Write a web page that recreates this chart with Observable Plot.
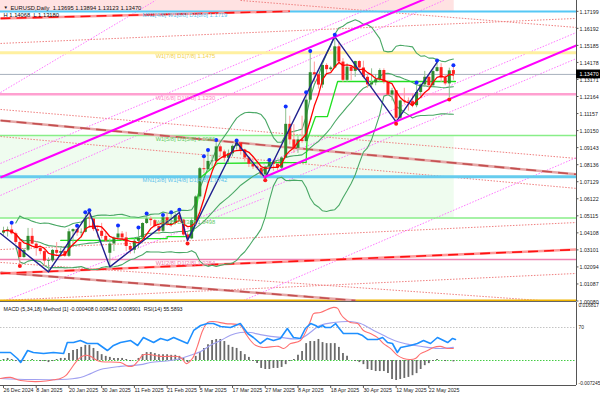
<!DOCTYPE html>
<html><head><meta charset="utf-8">
<script src="https://cdn.jsdelivr.net/npm/d3@7"></script>
<script src="https://cdn.jsdelivr.net/npm/@observablehq/plot@0.6"></script>
<style>
html,body{margin:0;padding:0;background:#fff;}
#wrap{position:relative;width:600px;height:397px;overflow:hidden;background:#fff;}
#wrap > svg{position:absolute;left:0;}
</style></head><body><div id="wrap"></div>
<script>
// ================= DATA =================
const dates = ["2024-12-26","2024-12-27","2024-12-30","2024-12-31",
"2025-01-02","2025-01-03","2025-01-06","2025-01-07","2025-01-08","2025-01-09","2025-01-10","2025-01-13","2025-01-14","2025-01-15","2025-01-16","2025-01-17","2025-01-20","2025-01-21","2025-01-22","2025-01-23","2025-01-24","2025-01-27","2025-01-28","2025-01-29","2025-01-30","2025-01-31",
"2025-02-03","2025-02-04","2025-02-05","2025-02-06","2025-02-07","2025-02-10","2025-02-11","2025-02-12","2025-02-13","2025-02-14","2025-02-17","2025-02-18","2025-02-19","2025-02-20","2025-02-21","2025-02-24","2025-02-25","2025-02-26","2025-02-27","2025-02-28",
"2025-03-03","2025-03-04","2025-03-05","2025-03-06","2025-03-07","2025-03-10","2025-03-11","2025-03-12","2025-03-13","2025-03-14","2025-03-17","2025-03-18","2025-03-19","2025-03-20","2025-03-21","2025-03-24","2025-03-25","2025-03-26","2025-03-27","2025-03-28","2025-03-31",
"2025-04-01","2025-04-02","2025-04-03","2025-04-04","2025-04-07","2025-04-08","2025-04-09","2025-04-10","2025-04-11","2025-04-14","2025-04-15","2025-04-16","2025-04-17","2025-04-18","2025-04-21","2025-04-22","2025-04-23","2025-04-24","2025-04-25","2025-04-28","2025-04-29","2025-04-30",
"2025-05-01","2025-05-02","2025-05-05","2025-05-06","2025-05-07","2025-05-08","2025-05-09","2025-05-12","2025-05-13","2025-05-14","2025-05-15","2025-05-16","2025-05-19","2025-05-20","2025-05-21","2025-05-22","2025-05-23","2025-05-26","2025-05-27","2025-05-28","2025-05-29","2025-05-30"];

const open = [1.0409,1.0422,1.0428,1.0405,1.0354,1.0265,1.0308,1.0390,1.0344,1.0318,1.0300,1.0244,1.0245,1.0307,1.0290,1.0300,1.0272,1.0417,1.0430,1.0410,1.0414,1.0495,1.0492,1.0430,1.0420,1.0390,
1.0290,1.0345,1.0380,1.0404,1.0381,1.0330,1.0308,1.0361,1.0380,1.0466,1.0492,1.0483,1.0448,1.0420,1.0500,1.0459,1.0466,1.0512,1.0486,1.0398,
1.0375,1.0483,1.0623,1.0790,1.0784,1.0833,1.0833,1.0919,1.0889,1.0852,1.0878,1.0922,1.0942,1.0900,1.0853,1.0816,1.0800,1.0792,1.0753,1.0799,1.0828,
1.0816,1.0793,1.0853,1.1052,1.0960,1.0910,1.0960,1.0950,1.1195,1.1357,1.1345,1.1284,1.1400,1.1375,1.1385,1.1510,1.1420,1.1312,1.1390,1.1365,1.1423,1.1385,
1.1330,1.1285,1.1297,1.1315,1.1370,1.1300,1.1225,1.1250,1.1088,1.1190,1.1187,1.1186,1.1162,1.1240,1.1285,1.1330,1.1280,1.1364,1.1387,1.1325,1.1291,1.13695];
const high = [1.0444,1.0445,1.0458,1.0415,1.0377,1.0318,1.0437,1.0436,1.0358,1.0322,1.0313,1.0263,1.0313,1.0353,1.0318,1.0310,1.0433,1.0434,1.0441,1.0434,1.0521,1.0533,1.0496,1.0443,1.0467,1.0410,
1.0375,1.0387,1.0442,1.0418,1.0414,1.0340,1.0375,1.0430,1.0470,1.0513,1.0505,1.0490,1.0460,1.0505,1.0528,1.0520,1.0528,1.0535,1.0490,1.0412,
1.0498,1.0630,1.0797,1.0852,1.0888,1.0870,1.0947,1.0930,1.0900,1.0900,1.0930,1.0945,1.0944,1.0905,1.0861,1.0857,1.0820,1.0800,1.0805,1.0830,1.0840,
1.0820,1.0860,1.1145,1.1100,1.1050,1.0980,1.1100,1.1230,1.1474,1.1420,1.1350,1.1410,1.1410,1.1395,1.1570,1.1540,1.1440,1.1410,1.1395,1.1425,1.1428,1.1425,
1.1340,1.1380,1.1346,1.1380,1.1380,1.1310,1.1265,1.1250,1.1195,1.1265,1.1208,1.1230,1.1287,1.1290,1.1365,1.1345,1.1375,1.1418,1.1410,1.1345,1.1384,1.13894];
const low = [1.0396,1.0386,1.0399,1.0342,1.0226,1.0260,1.0300,1.0340,1.0273,1.0281,1.0214,1.0180,1.0235,1.0270,1.0265,1.0266,1.0265,1.0340,1.0390,1.0380,1.0410,1.0437,1.0418,1.0380,1.0375,1.0355,
1.0210,1.0300,1.0365,1.0360,1.0300,1.0285,1.0287,1.0318,1.0370,1.0460,1.0450,1.0440,1.0400,1.0410,1.0450,1.0445,1.0460,1.0480,1.0391,1.0360,
1.0370,1.0470,1.0610,1.0760,1.0770,1.0800,1.0810,1.0860,1.0830,1.0823,1.0860,1.0900,1.0870,1.0830,1.0797,1.0785,1.0780,1.0740,1.0733,1.0775,1.0775,
1.0778,1.0778,1.0850,1.0930,1.0880,1.0880,1.0940,1.0940,1.1190,1.1300,1.1260,1.1265,1.1340,1.1365,1.1380,1.1400,1.1300,1.1300,1.1310,1.1330,1.1365,1.1320,
1.1265,1.1265,1.1280,1.1300,1.1290,1.1220,1.1190,1.1067,1.1080,1.1170,1.1130,1.1150,1.1150,1.1210,1.1270,1.1250,1.1270,1.1360,1.1300,1.1280,1.1210,1.13123];
const close = [1.0422,1.0428,1.0405,1.0354,1.0265,1.0307,1.0390,1.0344,1.0318,1.0300,1.0244,1.0245,1.0307,1.0290,1.0300,1.0272,1.0417,1.0430,1.0410,1.0414,1.0495,1.0492,1.0430,1.0420,1.0390,1.0362,
1.0345,1.0380,1.0404,1.0381,1.0330,1.0308,1.0361,1.0380,1.0466,1.0492,1.0483,1.0448,1.0420,1.0500,1.0459,1.0466,1.0512,1.0486,1.0398,1.0375,
1.0483,1.0623,1.0790,1.0784,1.0833,1.0833,1.0919,1.0889,1.0852,1.0878,1.0922,1.0942,1.0900,1.0853,1.0816,1.0800,1.0792,1.0753,1.0799,1.0828,1.0816,
1.0793,1.0853,1.1052,1.0960,1.0910,1.0960,1.0950,1.1195,1.1357,1.1345,1.1284,1.1400,1.1375,1.1385,1.1510,1.1420,1.1312,1.1390,1.1365,1.1423,1.1385,1.1330,
1.1285,1.1297,1.1315,1.1370,1.1300,1.1225,1.1250,1.1088,1.1190,1.1187,1.1186,1.1162,1.1240,1.1285,1.1330,1.1280,1.1364,1.1387,1.1325,1.1291,1.1368,1.13470];

// fractal markers (bar indices)
const fractalUp = [2,18,20,21,28,33,35,39,41,43,49,50,52,57,65,69,74,75,81,101,106,110];
const fractalDown = [4,45,64,96,109];

// zigzag vertices [bar index, price]
const zigzag = [[-0.73,1.0407],[11,1.0180],[21,1.0535],[26,1.0210],[43,1.0531],[45,1.0366],[57,1.0945],[64,1.0735],[81,1.1570],[96,1.1067],[106,1.1418]];

// trailing stop (lime) vertices
const trail = [[14,1.0366],[30,1.0366],[30,1.0377],[40,1.0377],[40,1.0389],[45,1.0389],[46.5,1.0425],[48.2,1.0738],[52.3,1.0821],[74,1.0827],[74.2,1.0957],[76.3,1.1098],[79.2,1.1098],[81.7,1.1305],[110.5,1.1305]];

// Murrey math levels
const mmlPrice = [1.000977,1.025391,1.049805,1.074219,1.098633,1.123047,1.147461,1.171875];
const mmlLabel = ["","W1[2/8] D1[2/8] 1.0254","W1[3/8] D1[3/8] 1.0498","MN1[3/8] W1[4/8] D1[4/8] 1.0742","W1[5/8] D1[5/8] 1.0986","W1[6/8] D1[6/8] 1.1230","W1[7/8] D1[7/8] 1.1475","MN1[4/8] W1[8/8] D1[8/8] 1.1719"];
const mmlColor = ["#f0b400","#f080b0","#88ee88","#66ccee","#88ee88","#ffa0d0","#fff0a0","#55c8f5"];
const mmlText  = ["#f0b400","#ee78aa","#66cc66","#5bc0eb","#66cc66","#ff88c8","#f0d050","#5bc0eb"];
const mmlWidth = [2.5,1.5,1.5,3,1.5,2.5,3,2];

// trend lines: [[index, price],[index, price]]
const channelSolid = [[[-0.73,1.0738],[106.85,1.1831]],[[63.57,1.0738],[140.1,1.1518]]];
const channelDotted = [[[-0.73,1.1240],[37.16,1.1784]],[[-0.73,1.0632],[107.6,1.1784]],[[-0.73,1.0821],[94.13,1.1784]],
  [[63.57,1.0815],[140.1,1.1595]],[[48.17,1.0502],[140.1,1.1441]],[[58.68,1.0011],[140.1,1.0856]],[[-0.73,0.9999],[63.57,1.0614]]];
const redThick = [[[-0.73,1.0171],[140.3,1.0312]],[[-0.73,1.1678],[70,1.1720]]];
const brownThick = [[[-0.73,1.1075],[140.3,1.0756]],[[-0.73,1.0176],[86.06,1.0011]]];
const redDotted = [[[-0.73,1.1530],[140.3,1.1678]],[[57.95,1.1784],[140.3,1.1624]],[[-0.73,1.1140],[140.3,1.0850]],
  [[-0.73,1.0980],[140.3,1.0673]],[[-0.73,1.0312],[140.3,1.0472]],[[-0.73,1.0011],[140.3,1.0171]],[[-0.73,1.0236],[131.3,1.0011]]];

// axis ticks
const priceTicks = [1.00080,1.01087,1.02094,1.03101,1.04108,1.05115,1.06122,1.07129,1.08136,1.09143,1.10150,1.11157,1.12164,1.13171,1.14178,1.15185,1.16192,1.17199];
const tickIdx = [0,8,16,24,32,40,48,56,64,72,80,88,96,104];
const tickLabels = ["26 Dec 2024","8 Jan 2025","20 Jan 2025","30 Jan 2025","11 Feb 2025","21 Feb 2025","5 Mar 2025","17 Mar 2025","27 Mar 2025","8 Apr 2025","18 Apr 2025","30 Apr 2025","12 May 2025","22 May 2025"];

// MACD window
const macdHist = [0.0003,0.0006,0.0003,-0.0003,-0.0006,-0.0003,0,0.0003,0,-0.0003,
-0.0003,-0.0006,-0.0003,0.0003,0.0006,0.0006,0.0020,0.0029,0.0032,0.0038,
0.0044,0.0044,0.0035,0.0026,0.0017,0.0012,0.0009,0.0006,0.0006,0.0006,
0.0003,-0.0003,0,0.0006,0.0017,0.0023,0.0023,0.0020,0.0017,0.0017,
0.0017,0.0015,0.0015,0.0012,0.0006,-0.0006,0,0.0012,0.0023,0.0035,
0.0046,0.0058,0.0061,0.0061,0.0055,0.0044,0.0038,0.0035,0.0026,0.0017,
0.0009,-0.0003,-0.0009,-0.0023,-0.0026,-0.0026,-0.0023,-0.0023,-0.0020,-0.0012,
-0.0003,0.0003,0.0015,0.0026,0.0049,0.0055,0.0055,0.0061,0.0052,0.0049,
0.0049,0.0049,0.0038,0.0020,0.0012,0,-0.0003,-0.0006,-0.0012,-0.0026,
-0.0029,-0.0032,-0.0032,-0.0032,-0.0038,-0.0055,-0.0058,-0.0055,-0.0052,-0.0049,
-0.0044,-0.0038,-0.0026,-0.0015,-0.0009,-0.0003,0.0003,0,-0.0003,0,
-0.0004];
const macdFast = [[-0.73,-0.0052],[1.7,-0.0049],[4.2,-0.0058],[9.1,-0.0061],[12.7,-0.0055],[13.9,-0.0052],[15.2,-0.0044],[16.4,-0.0026],[17.6,-0.0006],[18.8,0.0009],[20.0,0.0015],[21.3,0.0012],[22.5,0.0003],[23.7,-0.0003],[28.6,-0.0006],[30.6,-0.0017],[31.8,-0.0015],[33.0,0],[34.2,0.0017],[38.4,0.0012],[43.3,0.0009],[44.7,-0.0009],[46.2,0.0006],[47.4,0.0041],[48.7,0.0087],[49.9,0.0110],[51.1,0.0113],[54.3,0.0107],[57.9,0.0102],[59.2,0.0078],[60.4,0.0058],[61.6,0.0044],[63.3,0.0038],[67.2,0.0041],[68.5,0.0035],[70.2,0.0049],[72.6,0.0058],[75.1,0.0116],[75.8,0.0136],[77.5,0.0139],[80.7,0.0154],[81.7,0.0151],[82.4,0.0136],[83.1,0.0125],[84.8,0.0110],[86.6,0.0107],[88.0,0.0087],[89.7,0.0078],[91.4,0.0067],[92.9,0.0049],[94.6,0.0035],[96.3,0.0015],[97.8,0.0006],[99.5,0.0003],[100.7,0.0006],[102.0,0.0020],[103.7,0.0029],[105.1,0.0038],[106.8,0.0041],[108.6,0.0035],[110.0,0.0035]];
const macdSlow = [[-0.73,-0.0052],[6.6,-0.0055],[13.9,-0.0055],[18.8,-0.0049],[21.3,-0.0038],[23.7,-0.0026],[28.6,-0.0017],[33.5,-0.0012],[35.9,-0.0006],[40.8,0],[43.3,0.0006],[45.7,0.0015],[48.2,0.0026],[50.6,0.0044],[53.1,0.0058],[55.5,0.0073],[57.9,0.0081],[60.4,0.0081],[62.8,0.0075],[67.7,0.0067],[72.6,0.0064],[77.5,0.0102],[80.7,0.0110],[84.8,0.0113],[87.3,0.0107],[90.5,0.0087],[93.9,0.0067],[97.1,0.0052],[100.2,0.0044],[103.7,0.0038],[106.8,0.0035],[110.0,0.0038]];
const rsi = [[-0.73,39.7],[1.7,39.7],[3.4,32.4],[4.2,27.6],[5.9,42.1],[7.3,39.7],[9.8,38.5],[12.2,39.7],[14.7,38.5],[15.6,51.8],[17.1,51.8],[18.8,54.2],[20.5,50.6],[23.0,50.6],[25.4,42.1],[26.9,48.2],[28.6,51.8],[31.1,54.2],[32.8,48.2],[34.2,57.9],[36.7,51.8],[38.4,56.7],[40.1,54.2],[41.6,57.9],[43.3,54.2],[45.0,50.6],[46.5,66.4],[48.2,72.4],[49.9,74.8],[51.3,74.8],[53.1,71.2],[55.5,70.0],[57.9,74.8],[59.7,62.7],[61.1,57.9],[62.8,50.6],[64.5,56.7],[66.0,54.2],[67.7,56.7],[69.4,68.8],[70.9,57.9],[72.6,56.7],[73.8,68.8],[75.1,74.8],[76.3,72.4],[77.0,70.0],[78.0,72.4],[78.7,70.0],[80.0,70.0],[81.2,74.8],[81.9,70.0],[83.1,62.7],[84.8,62.7],[86.6,62.7],[87.8,60.3],[89.0,55.5],[91.4,55.5],[92.7,57.9],[93.9,51.8],[95.1,50.6],[96.3,39.7],[97.1,45.8],[99.5,48.2],[101.2,50.6],[102.7,54.2],[104.4,50.6],[106.1,57.9],[107.6,54.2],[108.6,51.8],[109.8,56.7],[110.5,55.5]];
const macdAxisTop = 0.016817, macdAxisBottom = -0.007245;

const header = "EURUSD,Daily  1.13695 1.13894 1.13123 1.13470";
const header2 = "H 1.14068  L 1.13180";
const macdTitle = "MACD (5,34,18) Method [1] -0.000408 0.008452 0.008901  RSI(14) 55.5893";
const lastPrice = 1.13470;

// ================= CHART =================
const FONT = "'Liberation Sans', Arial, sans-serif";
const FS = 5.8, FA = 5.3;
const XD = [-0.733, 140.1];
const bars = close.map((c, i) => ({i, o: open[i], h: high[i], l: low[i], c, up: c >= open[i]}));
const mml = mmlPrice.map((p, k) => ({p, label: mmlLabel[k], color: mmlColor[k], text: mmlText[k], w: mmlWidth[k], mn: mmlLabel[k].startsWith("MN1")}));

function bb(k, m) {
  return close.map((_, i) => {
    const w = close.slice(Math.max(0, i - k + 1), i + 1);
    if (w.length < 4) return null;
    return {i, v: d3.mean(w) + m * d3.deviation(w)};
  }).filter(d => d);
}
const seg = (arr, o) => Plot.link(arr, {x1: d => d[0][0], y1: d => d[0][1], x2: d => d[1][0], y2: d => d[1][1], clip: true, ...o});

const wrap = document.getElementById("wrap");

const price = Plot.plot({
  width: 600, height: 302, marginLeft: 0, marginRight: 24, marginTop: 0, marginBottom: 1,
  x: {domain: XD, range: [0, 576], axis: null},
  y: {domain: [1.0011, 1.171875], range: [300, 11], axis: null},
  style: {fontFamily: FONT, background: "transparent", overflow: "visible"},
  marks: [
    Plot.rect([[mmlPrice[7], 1.2]], {x1: -0.733, x2: 110.2, y1: d => d[0], y2: d => d[1], fill: "#ffe2e2", clip: true}),
    Plot.rect([[mmlPrice[2], mmlPrice[4]]], {x1: -0.733, x2: 110.2, y1: d => d[0], y2: d => d[1], fill: "#effcef", clip: true}),
    seg(redDotted, {stroke: "#f08080", strokeWidth: 1, strokeDasharray: "1.5,1.5"}),
    seg(channelDotted, {stroke: "#ff77ff", strokeWidth: 1, strokeDasharray: "1.5,1.5"}),
    Plot.ruleY(mml, {y: "p", stroke: "color", strokeWidth: "w"}),
    Plot.ruleY([lastPrice], {stroke: "#a8b0bc", strokeWidth: 1}),
    seg(brownThick, {stroke: "#e6a8a8", strokeWidth: 2.5}),
    seg(brownThick, {stroke: "#c45050", strokeWidth: 1.6, strokeDasharray: "10,6"}),
    seg(redThick, {stroke: "#ff9a9a", strokeWidth: 2.5}),
    seg(redThick, {stroke: "#ff1010", strokeWidth: 1.6, strokeDasharray: "10,6"}),
    Plot.line(bb(20, 2), {x: "i", y: "v", stroke: "#4aa866", strokeWidth: 1.1, clip: true}),
    Plot.line(bb(20, 0), {x: "i", y: "v", stroke: "#4aa866", strokeWidth: 1.1, clip: true}),
    Plot.line(bb(20, -2), {x: "i", y: "v", stroke: "#4aa866", strokeWidth: 1.1, clip: true}),
    Plot.line(trail, {x: d => d[0], y: d => d[1], stroke: "#22e022", strokeWidth: 1.3}),
    Plot.ruleX(bars, {x: "i", y1: "l", y2: "h", stroke: d => d.up ? "#8fbf8f" : "#ff9a9a", strokeWidth: 1}),
    Plot.ruleX(bars, {x: "i", y1: d => Math.abs(d.c - d.o) < 0.0004 ? d.o - 0.0002 : d.o, y2: d => Math.abs(d.c - d.o) < 0.0004 ? d.o + 0.0002 : d.c, stroke: d => d.up ? "#2f8a2f" : "#ff2020", strokeWidth: 3}),
    Plot.lineY(bars, Plot.windowY({k: 5, anchor: "end"}, {x: "i", y: "c", stroke: "#ff0000", strokeWidth: 1.3})),
    Plot.line(zigzag, {x: d => d[0], y: d => d[1], stroke: "#20208e", strokeWidth: 1.4, clip: true}),
    seg(channelSolid, {stroke: "#ff00ff", strokeWidth: 2}),
    Plot.dot(fractalUp, {x: d => d, y: d => high[d], r: 2, fill: "#1030ff", dy: -2}),
    Plot.dot(fractalDown, {x: d => d, y: d => low[d], r: 2, fill: "#ff1a1a", dy: 2}),
    Plot.text(mml.filter(d => d.label), {x: d => d.mn ? 34 : 37.2, y: "p", text: "label", fill: "text", textAnchor: "start", dy: 3.6, fontSize: FS}),
    Plot.text([header], {frameAnchor: "top-left", dx: 10, dy: 5, text: d => d, textAnchor: "start", fontSize: FS, fill: "#111"}),
    Plot.text(["▼"], {frameAnchor: "top-left", dx: 3, dy: 5, text: d => d, textAnchor: "start", fontSize: 4.5, fill: "#111"}),
    Plot.text([header2], {frameAnchor: "top-left", dx: 3, dy: 12, text: d => d, textAnchor: "start", fontSize: FS, fill: "#111"}),
    Plot.ruleX([XD[1]], {stroke: "#555", strokeWidth: 1}),
    Plot.ruleY([1.0011], {stroke: "#666", strokeWidth: 1, dy: 1}),
    Plot.ruleY(priceTicks, {x1: XD[1], x2: XD[1] + 0.6, stroke: "#555"}),
    Plot.text(priceTicks, {x: XD[1], y: d => d, text: d => d.toFixed(5), dx: 3, textAnchor: "start", fontSize: FA, fill: "#222", lineAnchor: "bottom", dy: 2.5}),
    Plot.rect([lastPrice], {x1: XD[1], x2: XD[1] + 5.9, y1: d => d - 0.0026, y2: d => d + 0.0026, fill: "#000"}),
    Plot.text([lastPrice], {x: XD[1], y: d => d, text: d => d.toFixed(5), dx: 3, textAnchor: "start", fontSize: FA, fill: "#fff"})
  ]
});
price.style.top = "0px";
wrap.appendChild(price);

const macd = Plot.plot({
  width: 600, height: 95, marginLeft: 0, marginRight: 24, marginTop: 0, marginBottom: 12,
  x: {domain: XD, range: [0, 576], axis: null},
  y: {domain: [macdAxisBottom, macdAxisTop], range: [83, 0], axis: null},
  style: {fontFamily: FONT, background: "transparent", overflow: "visible"},
  marks: [
    Plot.ruleY([0], {stroke: "#44cc44", strokeDasharray: "1.5,1.5"}),
    Plot.ruleX(macdHist, {x: (d, i) => i, y1: 0, y2: d => d, stroke: "#6a6a6a", strokeWidth: 1.8}),
    Plot.line(macdSlow, {x: d => d[0], y: d => d[1], stroke: "#a0a0f0", strokeWidth: 1.1, curve: "catmull-rom", clip: true}),
    Plot.line(macdFast, {x: d => d[0], y: d => d[1], stroke: "#ff7070", strokeWidth: 1.1, curve: "catmull-rom", clip: true}),
    Plot.text([macdTitle], {frameAnchor: "top-left", dx: 3, dy: 4.5, text: d => d, textAnchor: "start", fontSize: FA, fill: "#111"}),
    Plot.ruleX([XD[1]], {stroke: "#555"}),
    Plot.ruleY([macdAxisBottom], {stroke: "#555"}),
    Plot.ruleX(tickIdx, {x: d => d, y1: macdAxisBottom, y2: -0.0081, stroke: "#555"}),
    Plot.text(tickIdx, {x: d => d, frameAnchor: "bottom", dy: 6, text: (d, i) => tickLabels[i], textAnchor: "start", fontSize: FA, fill: "#222"}),
    Plot.text([macdAxisTop], {x: XD[1], y: d => d, text: d => d.toFixed(6), dx: 2, textAnchor: "start", fontSize: 4.9, fill: "#222", lineAnchor: "top", dy: 1.2}),
    Plot.text([0], {x: XD[1], y: d => d, text: "0.00", dx: 2, textAnchor: "start", fontSize: 4.9, fill: "#222"}),
    Plot.text([macdAxisBottom], {x: XD[1], y: d => d, text: d => d.toFixed(6), dx: 2, textAnchor: "start", fontSize: 4.9, fill: "#222", lineAnchor: "bottom", dy: -0.5})
  ]
});
macd.style.top = "302px";
wrap.appendChild(macd);

const rsiPlot = Plot.plot({
  width: 600, height: 95, marginLeft: 0, marginRight: 24, marginTop: 0, marginBottom: 12,
  x: {domain: XD, range: [0, 576], axis: null},
  y: {domain: [0, 100], range: [82.75, 0.25], axis: null},
  style: {fontFamily: FONT, background: "transparent", overflow: "visible"},
  marks: [
    Plot.ruleY([70], {stroke: "#c4c4c4", strokeDasharray: "1.5,1.5"}),
    Plot.line(rsi, {x: d => d[0], y: d => d[1], stroke: "#1e8fff", strokeWidth: 1.6, clip: true}),
    Plot.text([70], {x: XD[1], y: d => d, text: d => String(d), dx: 2, textAnchor: "start", fontSize: 4.9, fill: "#222"})
  ]
});
rsiPlot.style.top = "302px";
wrap.appendChild(rsiPlot);
</script></body></html>
